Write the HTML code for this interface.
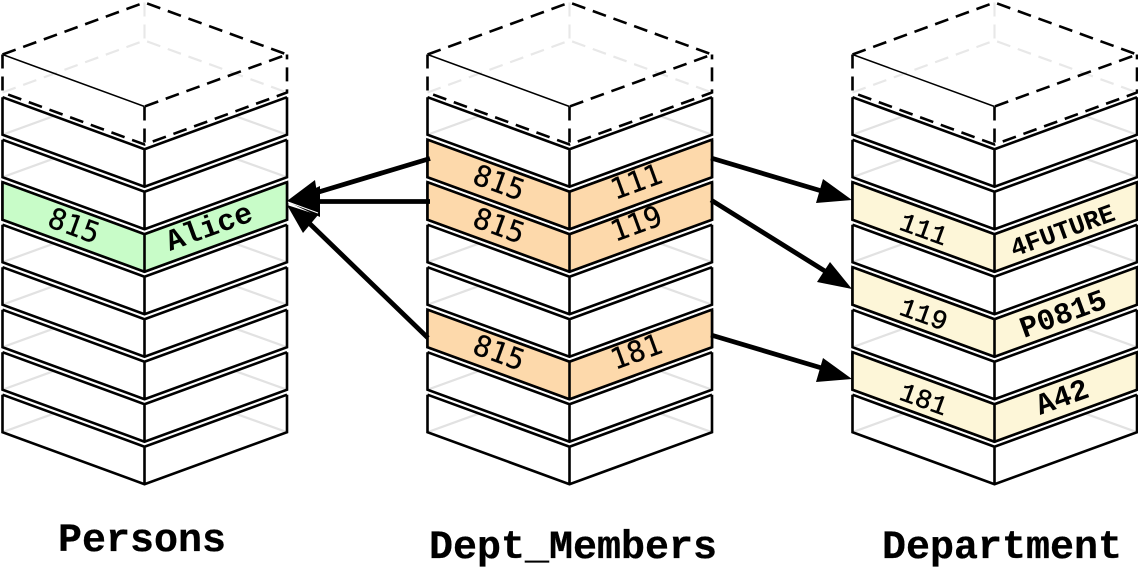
<!DOCTYPE html>
<html>
<head>
<meta charset="utf-8">
<style>
html,body{margin:0;padding:0;background:#fff;width:1138px;height:571px;overflow:hidden}
svg{display:block}
.t{font-family:"Liberation Mono",monospace;font-weight:bold;font-size:40px;fill:#000;stroke:#000;stroke-width:.3}
.dj{font-family:"DejaVu Sans Mono",monospace;font-size:29px;fill:#000;stroke:#000;stroke-width:.25}
.lb{font-family:"Liberation Mono",monospace;font-size:27px;fill:#000;stroke:#000;stroke-width:.5}
.lbb{font-family:"Liberation Mono",monospace;font-weight:bold;font-size:30px;fill:#000}
</style>
</head>
<body>
<svg width="1138" height="571" viewBox="0 0 1138 571" xmlns="http://www.w3.org/2000/svg">
<defs>
  <g id="w">
    <polygon points="0,0 142,52 284.5,0 284.5,37.5 142,89.5 0,37.5" fill="#fff"/>
    <path d="M0,37.5L51,19M284.5,37.5L233,19" stroke="#e2e2e2" stroke-width="2.2" fill="none"/>
    <path d="M0,0L142,52L284.5,0M0,0V37.5L142,89.5L284.5,37.5V0M142,52V89.5" stroke="#000" stroke-width="2.6" fill="none"/>
  </g>
  <g id="c">
    <polygon points="0,0 142,52 284.5,0 284.5,37.5 142,89.5 0,37.5" stroke="#000" stroke-width="2.6"/>
    <path d="M142,52V89.5" stroke="#000" stroke-width="2.6"/>
  </g>
  <g id="d">
    <path d="M0,38L142,-14L284.5,38M142,-52V-14" stroke="#e8e8e8" stroke-width="2.2" fill="none" stroke-dasharray="14 8"/>
    <path d="M0,0L142,52" fill="none" stroke="#000" stroke-width="1.5"/>
    <path d="M0,0L142,-52L284.5,0L142,52" fill="none" stroke="#000" stroke-width="2.6" stroke-dasharray="14 8"/>
    <path d="M0,0V38L142,90L284.5,38V0M142,52V90" fill="none" stroke="#000" stroke-width="2.6" stroke-dasharray="14 8"/>
  </g>
  <g id="stack">
    <use href="#w" x="0" y="394.7"/>
    <use href="#w" x="0" y="352.2"/>
    <use href="#w" x="0" y="309.7"/>
    <use href="#w" x="0" y="267.2"/>
    <use href="#w" x="0" y="224.7"/>
    <use href="#w" x="0" y="182.2"/>
    <use href="#w" x="0" y="139.7"/>
    <use href="#w" x="0" y="97.2"/>
  </g>
</defs>

<!-- Persons -->
<g transform="translate(2.5,0)">
  <use href="#stack"/>
  <use href="#c" y="182.2" fill="#c8fcc8"/>
  <use href="#d" y="54.5"/>
</g>
<text class="dj" transform="translate(46,226) rotate(20)">815</text>
<text class="lbb" transform="translate(170,251) rotate(-20)">Alice</text>

<!-- Dept_Members -->
<g transform="translate(427.5,0)">
  <use href="#stack"/>
  <use href="#c" y="309.7" fill="#fdd9ab"/>
  <use href="#c" y="182.2" fill="#fdd9ab"/>
  <use href="#c" y="139.7" fill="#fdd9ab"/>
  <use href="#d" y="54.5"/>
</g>
<text class="dj" transform="translate(471,183) rotate(20)">815</text>
<text class="dj" transform="translate(471,226) rotate(20)">815</text>
<text class="dj" transform="translate(471,353) rotate(20)">815</text>
<text class="dj" transform="translate(615,200) rotate(-20)">111</text>
<text class="dj" transform="translate(615,242) rotate(-20)">119</text>
<text class="dj" transform="translate(615,370) rotate(-20)">181</text>

<!-- Department -->
<g transform="translate(852.5,0)">
  <use href="#stack"/>
  <use href="#c" y="352.2" fill="#fdf6d8"/>
  <use href="#c" y="267.2" fill="#fdf6d8"/>
  <use href="#c" y="182.2" fill="#fdf6d8"/>
  <use href="#d" y="54.5"/>
</g>
<text class="lb" transform="translate(898,229) rotate(20)">111</text>
<text class="lb" transform="translate(898,314) rotate(20)">119</text>
<text class="lb" transform="translate(898,399) rotate(20)">181</text>
<text class="lbb" style="font-size:26px" transform="translate(1014,257) rotate(-20)">4FUTURE</text>
<text class="lbb" transform="translate(1024,338) rotate(-20)">P0815</text>
<text class="lbb" transform="translate(1040,415) rotate(-20)">A42</text>

<!-- Arrows -->
<g stroke="#000" stroke-width="4.8" fill="none">
  <path d="M430,158.5L312,194"/>
  <path d="M430,201.5H315"/>
  <path d="M428,338L308,222"/>
  <path d="M711,158L825,192"/>
  <path d="M711,200L828,273"/>
  <path d="M711,335L825,369"/>
</g>
<g fill="#000">
  <polygon points="287,201 315,180 320,213"/>
  <polygon points="287,201.5 320,186 320,217"/>
  <polygon points="287,205 318,215 303,233"/>
  <polygon points="852,200 823,179 816,203"/>
  <polygon points="852,289 830,262 817,282"/>
  <polygon points="852,379 823,358 816,382"/>
</g>
<path d="M288,202L318,213" stroke="#fff" stroke-width="1" fill="none"/>

<!-- Titles -->
<text class="t" x="58" y="551">Persons</text>
<text class="t" x="429" y="558">Dept_Members</text>
<text class="t" x="882" y="558">Department</text>
</svg>
</body>
</html>
